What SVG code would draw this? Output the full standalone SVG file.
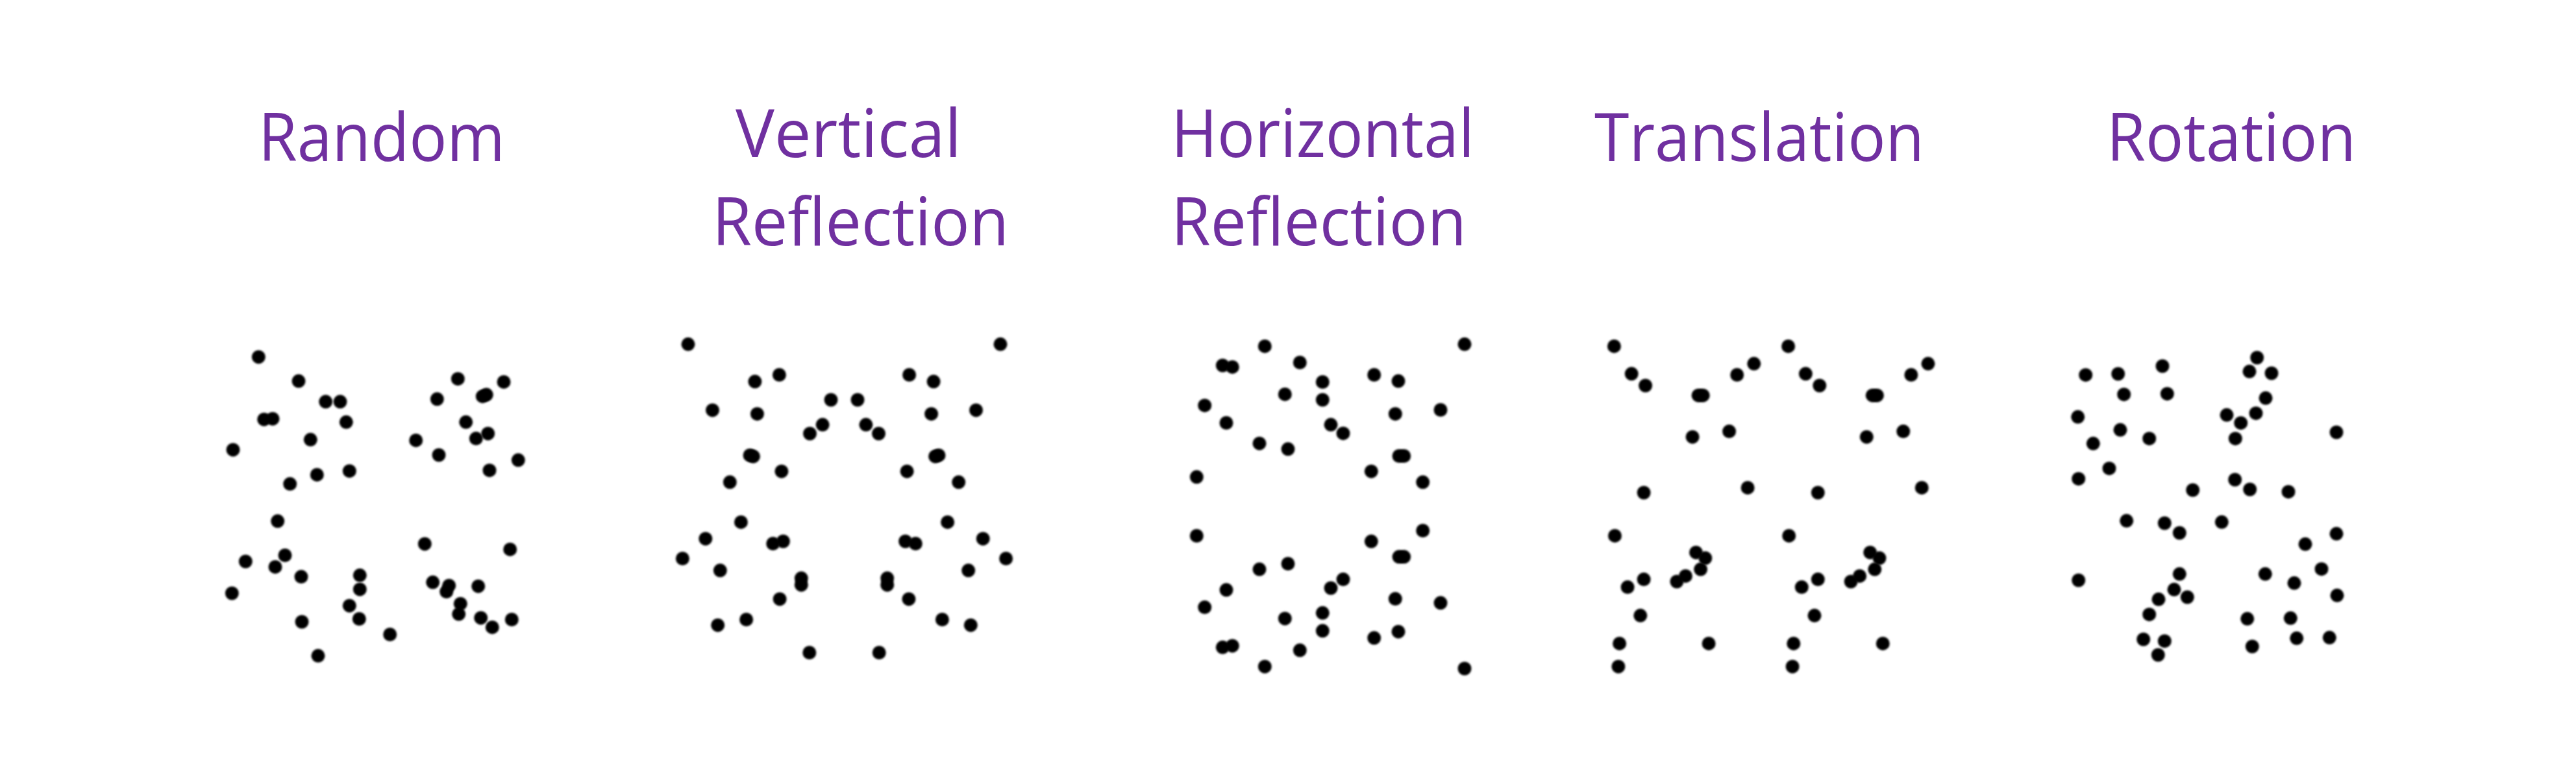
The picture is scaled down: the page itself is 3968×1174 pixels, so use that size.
<svg xmlns="http://www.w3.org/2000/svg" width="3968" height="1174" viewBox="0 0 3968 1174">
<defs>
<filter id="b" x="-50%" y="-50%" width="200%" height="200%"><feGaussianBlur stdDeviation="1.6"/></filter>
</defs>
<style>
.t{font-family:"Open Sans","Liberation Sans",sans-serif;font-size:102px;fill:#7030A0}
.d circle{fill:#000;filter:url(#b);r:10.5px}
</style>
<rect width="3968" height="1174" fill="#fff"/>
<g id="titles">
<text class="t" x="398" y="248" textLength="380" lengthAdjust="spacingAndGlyphs">Random</text>
<text class="t" x="1133" y="242" textLength="348" lengthAdjust="spacingAndGlyphs">Vertical</text>
<text class="t" x="1097" y="378" textLength="457" lengthAdjust="spacingAndGlyphs">Reflection</text>
<text class="t" x="1804" y="242" textLength="467" lengthAdjust="spacingAndGlyphs">Horizontal</text>
<text class="t" x="1804" y="378" textLength="455" lengthAdjust="spacingAndGlyphs">Reflection</text>
<text class="t" x="2456" y="248" textLength="508" lengthAdjust="spacingAndGlyphs">Translation</text>
<text class="t" x="3245" y="248" textLength="384" lengthAdjust="spacingAndGlyphs">Rotation</text>
</g>
<g id="random" class="d">
<circle cx="398.3" cy="549.9" r="10.5"/><circle cx="460" cy="587.1" r="10.5"/><circle cx="501.7" cy="618.8" r="10.5"/><circle cx="524" cy="618.8" r="10.5"/>
<circle cx="406.7" cy="646.2" r="10.5"/><circle cx="420" cy="645.2" r="10.5"/><circle cx="533.3" cy="650.3" r="10.5"/><circle cx="478.3" cy="677.3" r="10.5"/>
<circle cx="359" cy="692.9" r="10.5"/><circle cx="488.3" cy="731.4" r="10.5"/><circle cx="538.3" cy="725.7" r="10.5"/><circle cx="446.7" cy="745.6" r="10.5"/>
<circle cx="705.3" cy="583.7" r="10.5"/><circle cx="776" cy="588.4" r="10.5"/><circle cx="673.3" cy="614.8" r="10.5"/><circle cx="743.3" cy="610.7" r="10.5"/>
<circle cx="749.3" cy="608.1" r="10.5"/><circle cx="717.7" cy="650.3" r="10.5"/><circle cx="640.7" cy="678.4" r="10.5"/><circle cx="751.7" cy="667.9" r="10.5"/>
<circle cx="733.3" cy="675.6" r="10.5"/><circle cx="676" cy="701" r="10.5"/><circle cx="798.3" cy="708.8" r="10.5"/><circle cx="754" cy="724.7" r="10.5"/>
<circle cx="427.7" cy="802.8" r="10.5"/><circle cx="439" cy="855.5" r="10.5"/><circle cx="378.3" cy="865" r="10.5"/><circle cx="424" cy="873.4" r="10.5"/>
<circle cx="464" cy="888.6" r="10.5"/><circle cx="357.3" cy="914" r="10.5"/><circle cx="554.3" cy="886.3" r="10.5"/><circle cx="554.3" cy="907.9" r="10.5"/>
<circle cx="538.3" cy="933.2" r="10.5"/><circle cx="553.3" cy="953.5" r="10.5"/><circle cx="465" cy="958" r="10.5"/><circle cx="600.7" cy="977.5" r="10.5"/>
<circle cx="490" cy="1010.3" r="10.5"/><circle cx="654.3" cy="837.9" r="10.5"/><circle cx="785.7" cy="846.4" r="10.5"/><circle cx="666.7" cy="897.1" r="10.5"/>
<circle cx="691.7" cy="902.2" r="10.5"/><circle cx="687.7" cy="911.6" r="10.5"/><circle cx="736.7" cy="903.2" r="10.5"/><circle cx="709.3" cy="930.2" r="10.5"/>
<circle cx="706.7" cy="946.1" r="10.5"/><circle cx="740.7" cy="951.9" r="10.5"/><circle cx="758.3" cy="966.4" r="10.5"/><circle cx="788.3" cy="954.5" r="10.5"/>
</g>
<g id="vertical-reflection" class="d">
<circle cx="1060" cy="530.3" r="10.5"/><circle cx="1200.4" cy="577.5" r="10.5"/><circle cx="1162.9" cy="587.8" r="10.5"/><circle cx="1097.5" cy="631.9" r="10.5"/>
<circle cx="1166.4" cy="637.7" r="10.5"/><circle cx="1280" cy="616" r="10.5"/><circle cx="1267.1" cy="654.3" r="10.5"/><circle cx="1247.5" cy="668" r="10.5"/>
<circle cx="1155" cy="701.4" r="10.5"/><circle cx="1160.4" cy="703.2" r="10.5"/><circle cx="1203.9" cy="726.2" r="10.5"/><circle cx="1124.3" cy="742.8" r="10.5"/>
<circle cx="1141.4" cy="804.4" r="10.5"/><circle cx="1086.8" cy="829.9" r="10.5"/><circle cx="1190.7" cy="837.5" r="10.5"/><circle cx="1206.4" cy="834" r="10.5"/>
<circle cx="1051.4" cy="860.5" r="10.5"/><circle cx="1109.3" cy="878.8" r="10.5"/><circle cx="1234.3" cy="890.8" r="10.5"/><circle cx="1234.3" cy="901.2" r="10.5"/>
<circle cx="1201.1" cy="922.9" r="10.5"/><circle cx="1149.6" cy="954.5" r="10.5"/><circle cx="1105.7" cy="963.2" r="10.5"/><circle cx="1246.8" cy="1005.5" r="10.5"/>
<circle cx="1541" cy="530.3" r="10.5"/><circle cx="1400.6" cy="577.5" r="10.5"/><circle cx="1438.1" cy="587.8" r="10.5"/><circle cx="1503.5" cy="631.9" r="10.5"/>
<circle cx="1434.6" cy="637.7" r="10.5"/><circle cx="1321" cy="616" r="10.5"/><circle cx="1333.9" cy="654.3" r="10.5"/><circle cx="1353.5" cy="668" r="10.5"/>
<circle cx="1446" cy="701.4" r="10.5"/><circle cx="1440.6" cy="703.2" r="10.5"/><circle cx="1397.1" cy="726.2" r="10.5"/><circle cx="1476.7" cy="742.8" r="10.5"/>
<circle cx="1459.6" cy="804.4" r="10.5"/><circle cx="1514.2" cy="829.9" r="10.5"/><circle cx="1410.3" cy="837.5" r="10.5"/><circle cx="1394.6" cy="834" r="10.5"/>
<circle cx="1549.6" cy="860.5" r="10.5"/><circle cx="1491.7" cy="878.8" r="10.5"/><circle cx="1366.7" cy="890.8" r="10.5"/><circle cx="1366.7" cy="901.2" r="10.5"/>
<circle cx="1399.9" cy="922.9" r="10.5"/><circle cx="1451.4" cy="954.5" r="10.5"/><circle cx="1495.3" cy="963.2" r="10.5"/><circle cx="1354.2" cy="1005.5" r="10.5"/>
</g>
<g id="horizontal-reflection" class="d">
<circle cx="1948.3" cy="533.4" r="10.5"/><circle cx="2256" cy="530.3" r="10.5"/><circle cx="1883.3" cy="563" r="10.5"/><circle cx="1898.3" cy="565.4" r="10.5"/>
<circle cx="2002.3" cy="558.5" r="10.5"/><circle cx="2037.3" cy="588.5" r="10.5"/><circle cx="2116.7" cy="577.5" r="10.5"/><circle cx="2154" cy="587.1" r="10.5"/>
<circle cx="1979.3" cy="607.4" r="10.5"/><circle cx="2037.3" cy="616" r="10.5"/><circle cx="1855.7" cy="624.7" r="11.5"/><circle cx="1889" cy="651.5" r="10.5"/>
<circle cx="2149.3" cy="637.7" r="10.5"/><circle cx="2219" cy="631.5" r="10.5"/><circle cx="2050" cy="654.3" r="10.5"/><circle cx="2069" cy="667.7" r="10.5"/>
<circle cx="1940" cy="683.2" r="10.5"/><circle cx="1984" cy="691.8" r="10.5"/><circle cx="2155" cy="702.5" r="10.5"/><circle cx="2162.7" cy="702.5" r="10.5"/>
<circle cx="2112.3" cy="726.2" r="10.5"/><circle cx="1843.3" cy="734.8" r="10.5"/><circle cx="2191.7" cy="742.8" r="10.5"/>
<circle cx="1948.3" cy="1026.9" r="10.5"/><circle cx="2256" cy="1030" r="10.5"/><circle cx="1883.3" cy="997.3" r="10.5"/><circle cx="1898.3" cy="994.9" r="10.5"/>
<circle cx="2002.3" cy="1001.8" r="10.5"/><circle cx="2037.3" cy="971.8" r="10.5"/><circle cx="2116.7" cy="982.8" r="10.5"/><circle cx="2154" cy="973.2" r="10.5"/>
<circle cx="1979.3" cy="952.9" r="10.5"/><circle cx="2037.3" cy="944.3" r="10.5"/><circle cx="1855.7" cy="935.6" r="11.5"/><circle cx="1889" cy="908.8" r="10.5"/>
<circle cx="2149.3" cy="922.6" r="10.5"/><circle cx="2219" cy="928.8" r="10.5"/><circle cx="2050" cy="906" r="10.5"/><circle cx="2069" cy="892.6" r="10.5"/>
<circle cx="1940" cy="877.1" r="10.5"/><circle cx="1984" cy="868.5" r="10.5"/><circle cx="2155" cy="857.8" r="10.5"/><circle cx="2162.7" cy="857.8" r="10.5"/>
<circle cx="2112.3" cy="834.1" r="10.5"/><circle cx="1843.3" cy="825.5" r="10.5"/><circle cx="2191.7" cy="817.5" r="10.5"/>
</g>
<g id="translation" class="d">
<circle cx="2486.4" cy="533.4" r="10.5"/><circle cx="2513.2" cy="575.8" r="10.5"/><circle cx="2534.6" cy="594" r="10.5"/><circle cx="2616.1" cy="609.2" r="10.5"/>
<circle cx="2623.2" cy="609.2" r="10.5"/><circle cx="2675.7" cy="577.5" r="10.5"/><circle cx="2701.8" cy="560.3" r="10.5"/><circle cx="2607.1" cy="673.2" r="10.5"/>
<circle cx="2663.6" cy="664.6" r="10.5"/><circle cx="2532.1" cy="759" r="10.5"/><circle cx="2692.1" cy="751.4" r="11"/><circle cx="2487.5" cy="825.4" r="10.5"/>
<circle cx="2612.5" cy="851.2" r="10.5"/><circle cx="2626.8" cy="859.8" r="10.5"/><circle cx="2619.6" cy="877.1" r="10.5"/><circle cx="2596.4" cy="887.4" r="10.5"/>
<circle cx="2582.9" cy="896" r="10.5"/><circle cx="2532.1" cy="892.6" r="10.5"/><circle cx="2507.1" cy="904.6" r="10.5"/><circle cx="2526.8" cy="948.3" r="10.5"/>
<circle cx="2494.6" cy="991.4" r="10.5"/><circle cx="2632.1" cy="991.4" r="10.5"/><circle cx="2492.9" cy="1026.9" r="10.5"/>
<circle cx="2754.6" cy="533.4" r="10.5"/><circle cx="2781.4" cy="575.8" r="10.5"/><circle cx="2802.8" cy="594" r="10.5"/><circle cx="2884.3" cy="609.2" r="10.5"/>
<circle cx="2891.4" cy="609.2" r="10.5"/><circle cx="2943.9" cy="577.5" r="10.5"/><circle cx="2970" cy="560.3" r="10.5"/><circle cx="2875.3" cy="673.2" r="10.5"/>
<circle cx="2931.8" cy="664.6" r="10.5"/><circle cx="2800.3" cy="759" r="10.5"/><circle cx="2960.3" cy="751.4" r="11"/><circle cx="2755.7" cy="825.4" r="10.5"/>
<circle cx="2880.7" cy="851.2" r="10.5"/><circle cx="2895" cy="859.8" r="10.5"/><circle cx="2887.8" cy="877.1" r="10.5"/><circle cx="2864.6" cy="887.4" r="10.5"/>
<circle cx="2851.1" cy="896" r="10.5"/><circle cx="2800.3" cy="892.6" r="10.5"/><circle cx="2775.3" cy="904.6" r="10.5"/><circle cx="2795" cy="948.3" r="10.5"/>
<circle cx="2762.8" cy="991.4" r="10.5"/><circle cx="2900.3" cy="991.4" r="10.5"/><circle cx="2761.1" cy="1026.9" r="10.5"/>
</g>
<g id="rotation" class="d">
<circle cx="3212.7" cy="577.7" r="10.5"/><circle cx="3262.7" cy="576" r="10.5"/><circle cx="3331" cy="564" r="10.5"/><circle cx="3271.7" cy="607.7" r="10.5"/>
<circle cx="3338.3" cy="606.7" r="10.5"/><circle cx="3200.7" cy="642.3" r="10.5"/><circle cx="3266" cy="662.3" r="10.5"/><circle cx="3224.3" cy="683.3" r="10.5"/>
<circle cx="3310.7" cy="675.7" r="10.5"/><circle cx="3249" cy="721.7" r="10.5"/><circle cx="3201.7" cy="737.7" r="10.5"/><circle cx="3476.7" cy="551" r="10.5"/>
<circle cx="3465" cy="572.3" r="10.5"/><circle cx="3499" cy="575" r="10.5"/><circle cx="3490" cy="613.3" r="10.5"/><circle cx="3475" cy="636.7" r="10.5"/>
<circle cx="3430" cy="639.3" r="10.5"/><circle cx="3451.7" cy="651.7" r="10.5"/><circle cx="3443.3" cy="675.7" r="10.5"/><circle cx="3599" cy="666" r="10.5"/>
<circle cx="3442.7" cy="739" r="10.5"/><circle cx="3465.7" cy="754" r="10.5"/><circle cx="3525" cy="757.7" r="10.5"/><circle cx="3377.7" cy="755" r="10.5"/>
<circle cx="3275.7" cy="802.3" r="10.5"/><circle cx="3334.3" cy="806" r="10.5"/><circle cx="3357.3" cy="821" r="10.5"/><circle cx="3422.3" cy="804.3" r="10.5"/>
<circle cx="3599" cy="822.3" r="10.5"/><circle cx="3551" cy="838.3" r="10.5"/><circle cx="3576" cy="876.7" r="10.5"/><circle cx="3489.3" cy="884.3" r="10.5"/>
<circle cx="3534" cy="898.3" r="10.5"/><circle cx="3600" cy="917.3" r="10.5"/><circle cx="3201.7" cy="894" r="10.5"/><circle cx="3357.3" cy="884.3" r="10.5"/>
<circle cx="3349" cy="908.3" r="10.5"/><circle cx="3369.3" cy="920" r="10.5"/><circle cx="3325" cy="923.3" r="10.5"/><circle cx="3310.7" cy="946.7" r="10.5"/>
<circle cx="3301.7" cy="985" r="10.5"/><circle cx="3334.3" cy="987.7" r="10.5"/><circle cx="3324.3" cy="1009" r="10.5"/><circle cx="3461.7" cy="953.3" r="10.5"/>
<circle cx="3528.3" cy="952.3" r="10.5"/><circle cx="3469.3" cy="996" r="10.5"/><circle cx="3537.7" cy="983.3" r="10.5"/><circle cx="3588.3" cy="982.3" r="10.5"/>
</g>
</svg>
